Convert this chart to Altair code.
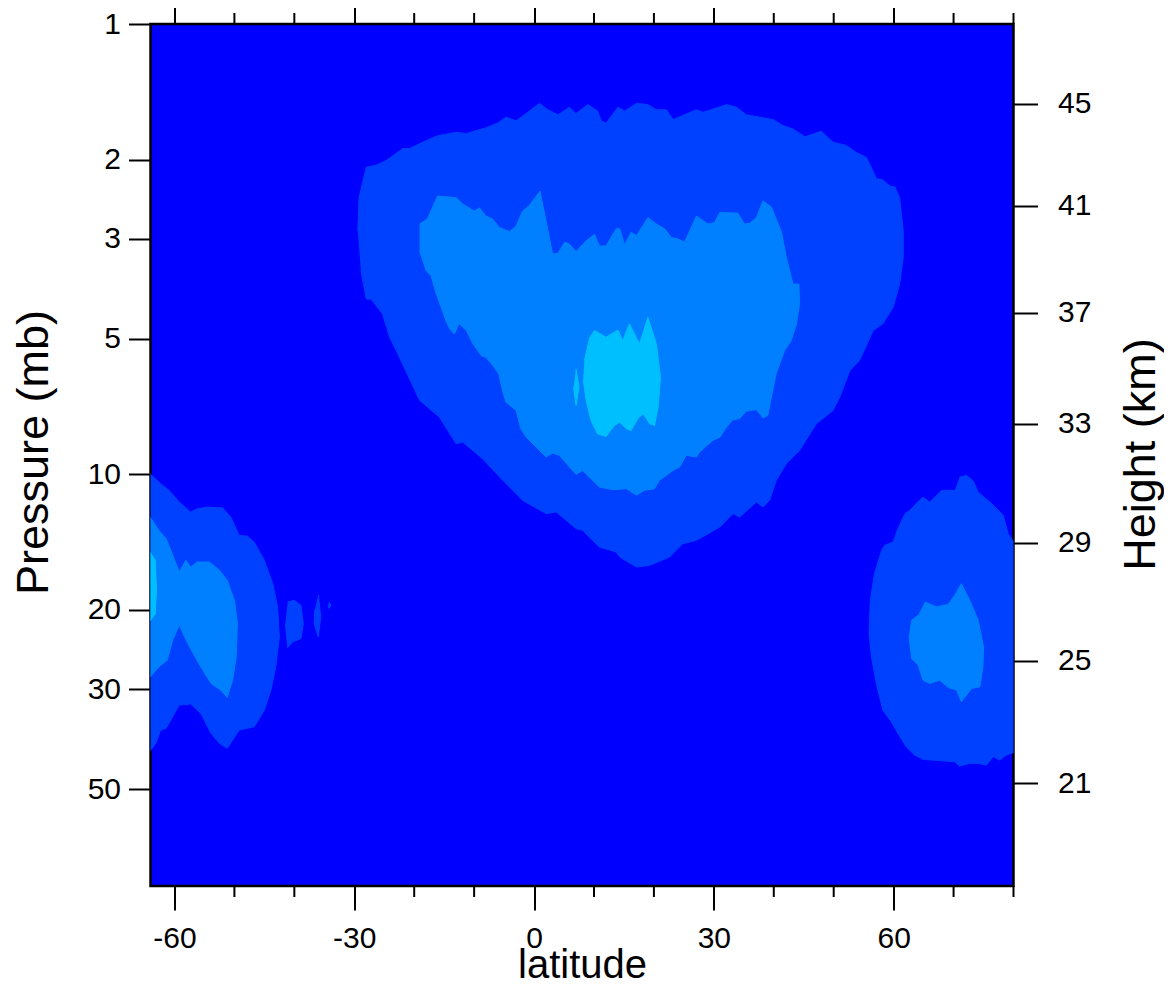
import altair as alt
import pandas as pd

# ---- axis tick values / labels ----
lat_major = [-60, -30, 0, 30, 60]
lat_minor = [-50, -40, -20, -10, 10, 20, 40, 50, 70, 80]
pres_ticks = [1, 2, 3, 5, 10, 20, 30, 50]
height_km = [21, 25, 29, 33, 37, 41, 45]
height_p = [48.5, 25.9, 14.17, 7.71, 4.375, 2.535, 1.504]

# ---- contour region outlines (latitude, pressure mb) ----
central_l1 = [(-29.4,2.88),(-29.2,2.43),(-28.0,2.08),(-26.4,2.06),(-24.7,2.01),(-21.9,1.89),(-20.8,1.89),(-18.6,1.83),(-16.1,1.77),(-13.0,1.74),(-11.3,1.75),(-8.0,1.70),(-6.1,1.66),(-4.7,1.61),(-3.0,1.64),(-1.6,1.59),(0.9,1.50),(2.3,1.55),(4.0,1.59),(5.9,1.53),(7.0,1.58),(9.0,1.51),(10.6,1.56),(11.2,1.64),(12.0,1.66),(14.0,1.53),(15.1,1.56),(17.1,1.50),(19.0,1.51),(20.4,1.55),(22.1,1.55),(23.2,1.63),(27.1,1.55),(28.2,1.57),(32.1,1.51),(33.8,1.53),(35.4,1.59),(39.9,1.63),(41.5,1.68),(43.2,1.71),(45.2,1.78),(47.9,1.73),(49.9,1.83),(52.1,1.86),(53.8,1.93),(55.5,1.98),(57.1,2.20),(58.2,2.22),(59.4,2.29),(60.2,2.30),(61.0,2.43),(61.6,2.88),(61.6,3.30),(61.0,3.78),(59.9,4.26),(58.2,4.63),(56.6,4.79),(54.3,5.59),(52.7,5.88),(51.0,6.74),(49.9,7.21),(47.1,7.72),(44.3,8.85),(42.1,9.47),(40.4,10.31),(39.3,11.42),(38.2,11.82),(37.1,11.52),(34.3,12.44),(33.2,12.22),(31.0,13.09),(27.1,14.01),(24.8,14.25),(22.6,15.26),(19.3,15.92),(17.1,16.06),(14.3,15.26),(13.7,14.87),(10.9,14.50),(8.1,13.31),(7.0,13.20),(3.7,12.12),(2.0,12.22),(-1.9,11.42),(-5.2,10.31),(-8.6,9.23),(-11.9,8.48),(-13.0,8.55),(-15.8,7.46),(-19.1,6.85),(-23.0,5.31),(-24.1,4.96),(-25.3,4.40),(-27.2,4.08),(-28.0,4.08),(-28.9,3.53)]

central_l2 = [(-19.1,2.78),(-17.8,2.71),(-16.1,2.41),(-13.0,2.43),(-11.9,2.51),(-10.0,2.60),(-9.1,2.56),(-8.0,2.67),(-6.9,2.71),(-5.8,2.83),(-4.1,2.89),(-3.0,2.81),(-1.9,2.60),(-0.8,2.53),(1.0,2.35),(3.1,3.24),(4.0,3.23),(5.1,3.05),(5.9,3.08),(7.0,3.20),(8.7,3.03),(10.1,2.93),(10.9,3.11),(12.0,3.11),(13.7,2.85),(14.3,2.85),(15.1,3.09),(16.2,2.90),(17.1,2.95),(19.0,2.69),(20.4,2.78),(21.8,2.85),(22.9,2.98),(24.0,3.00),(25.1,3.05),(27.1,2.67),(29.0,2.78),(30.1,2.76),(31.0,2.62),(34.0,2.63),(35.1,2.78),(36.0,2.77),(37.1,2.69),(38.2,2.47),(39.6,2.55),(41.3,2.90),(42.1,3.30),(43.2,3.78),(44.2,3.78),(44.3,4.18),(43.8,4.63),(42.9,5.05),(41.8,5.31),(40.4,5.98),(39.6,6.74),(39.0,7.40),(38.2,7.49),(37.1,7.18),(35.4,7.24),(34.3,7.52),(33.2,7.56),(32.1,7.86),(31.0,8.27),(29.8,8.41),(27.6,8.93),(27.1,9.15),(25.4,9.07),(24.3,9.63),(23.2,9.80),(20.9,10.31),(20.1,10.76),(18.4,10.85),(17.1,11.13),(15.4,10.76),(13.1,10.81),(10.9,10.67),(8.1,9.80),(7.0,10.0),(4.2,9.07),(3.1,8.97),(2.0,9.15),(0.9,8.85),(-1.3,8.27),(-2.2,7.92),(-3.0,7.21),(-4.7,6.91),(-5.2,6.57),(-5.9,5.98),(-6.9,5.73),(-8.0,5.50),(-8.8,5.45),(-10.2,5.13),(-11.3,4.79),(-12.5,4.63),(-13.3,4.88),(-14.1,4.75),(-14.7,4.56),(-15.5,4.26),(-16.3,3.98),(-17.2,3.62),(-18.0,3.53),(-19.1,3.19)]

central_l3 = [(8.4,5.59),(9.3,4.96),(10.1,4.79),(12.0,4.96),(14.0,4.78),(14.8,5.05),(15.9,4.63),(17.6,5.13),(19.0,4.48),(20.4,5.13),(21.1,6.09),(20.7,7.09),(20.1,7.79),(19.3,7.72),(18.2,7.33),(17.3,7.52),(16.2,7.99),(15.4,7.92),(14.3,7.66),(13.4,7.79),(12.0,8.24),(10.6,8.13),(9.5,7.59),(8.7,6.85),(8.2,6.19)]
sliver_l3 = [(7.0,5.83),(7.5,6.41),(7.0,7.03),(6.6,6.41)]

left_l1 = [(-65,9.71),(-62.3,10.49),(-60.9,10.85),(-59.2,11.52),(-57.3,12.12),(-56.2,11.92),(-54.5,11.82),(-52.0,11.86),(-50.6,12.44),(-49.2,13.65),(-47.8,13.72),(-46.7,14.13),(-45.0,15.51),(-43.6,17.48),(-42.8,19.69),(-42.5,22.95),(-43.1,26.75),(-43.9,30.12),(-45.0,33.37),(-46.7,36.34),(-49.2,36.95),(-51.2,40.57),(-52.5,39.55),(-53.9,37.58),(-55.6,33.94),(-57.3,32.36),(-59.2,32.52),(-60.3,34.52),(-61.4,36.64),(-62.3,36.95),(-63.1,39.55),(-65,42.70)]
left_l2 = [(-65,11.92),(-62.6,13.31),(-61.4,13.89),(-60.6,14.74),(-59.2,16.47),(-58.1,15.51),(-57.3,16.06),(-56.2,15.65),(-54.2,15.65),(-52.5,16.33),(-51.2,17.18),(-50.0,19.03),(-49.5,21.43),(-49.7,25.42),(-50.3,28.63),(-51.2,31.26),(-52.3,30.12),(-53.9,29.11),(-55.6,26.75),(-57.8,23.74),(-59.2,21.62),(-60.3,23.34),(-61.2,25.85),(-62.6,26.75),(-65,29.11)]
left_l3 = [(-65,14.25),(-63.2,15.51),(-63.0,18.08),(-63.2,20.37),(-65,21.99)]
blob_a = [(-41.1,19.19),(-40.0,19.03),(-38.9,19.52),(-38.5,21.43),(-38.9,23.14),(-40.3,23.54),(-41.1,24.23),(-41.5,21.43)]
blob_b = [(-36.0,18.49),(-35.6,20.72),(-36.0,22.95),(-36.7,21.43),(-36.6,20.03)]
blob_c = [(-34.2,19.22),(-33.9,19.52),(-34.2,19.82),(-34.4,19.52)]

right_l1 = [(71.0,10.14),(72.2,10.05),(73.3,10.35),(74.1,10.95),(76.3,11.59),(78.3,12.33),(79.1,13.54),(81,14.74),(81,40.93),(78.8,42.0),(77.7,43.07),(76.6,42.35),(75.5,44.19),(74.1,43.81),(72.7,43.81),(71.0,44.42),(70.2,43.45),(68.0,43.23),(64.9,42.92),(63.5,42.0),(62.1,40.24),(60.7,37.58),(59.6,35.42),(58.2,33.37),(57.1,29.11),(56.3,25.42),(55.9,22.55),(56.1,19.03),(56.8,16.60),(58.0,14.74),(58.5,14.37),(59.9,14.13),(60.7,13.20),(61.9,12.22),(62.7,12.02),(63.8,11.59),(64.9,11.23),(66.0,11.52),(68.0,10.85),(70.2,10.85)]
right_l2 = [(65.2,19.19),(67.2,19.69),(69.1,19.42),(70.2,18.55),(71.3,17.48),(72.7,19.03),(74.1,21.07),(75.0,24.15),(74.9,26.75),(74.4,29.62),(73.0,29.87),(71.3,31.98),(70.5,30.12),(69.1,29.72),(67.7,28.63),(66.0,29.11),(64.9,28.63),(64.1,26.51),(63.0,25.63),(62.6,22.95),(63.0,21.07),(64.1,20.54)]

level_colors = ["#0040FF", "#0080FF", "#00BFFF"]
polygons = [
    (0, "central_l1", central_l1), (0, "left_l1", left_l1), (0, "right_l1", right_l1),
    (0, "blob_a", blob_a), (0, "blob_b", blob_b), (0, "blob_c", blob_c),
    (1, "central_l2", central_l2), (1, "left_l2", left_l2), (1, "right_l2", right_l2),
    (2, "central_l3", central_l3), (2, "sliver_l3", sliver_l3), (2, "left_l3", left_l3),
]

rows = []
for lev, name, pts in polygons:
    for i, (la, pp) in enumerate(pts):
        rows.append({"level": lev, "poly": name, "idx": i, "lat": la, "p": pp})
df = pd.DataFrame(rows)
minor_df = pd.DataFrame({"lat": lat_minor})

FONT = "Liberation Sans"
W = 863
H = 862
xs = alt.Scale(domain=[-64, 80], nice=False, zero=False)
ys = alt.Scale(type="log", domain=[1, 82], reverse=True, nice=False)

common = dict(domain=False, grid=False, tickColor="black", tickWidth=2,
              labelFont=FONT, labelColor="black", titleFont=FONT,
              titleColor="black", titleFontWeight="normal")

x_bottom = alt.Axis(values=lat_major, tickSize=24, labelFontSize=30, labelPadding=13,
                    labelExpr="'' + datum.value", labelFlush=False,
                    title="latitude", titleFontSize=40, titleBaseline="alphabetic",
                    titleY=91, titleX=W / 2, titleAlign="center", **common)
x_top = alt.Axis(orient="top", values=lat_major, tickSize=24, labels=False,
                 title=None, **common)
y_left = alt.Axis(values=pres_ticks, tickSize=22, labelFontSize=30, labelPadding=8,
                  labelExpr="'' + datum.value", labelFlush=False,
                  title="Pressure (mb)", titleFontSize=45, titleAngle=270,
                  titleBaseline="alphabetic", titleAlign="center",
                  titleX=-103, titleY=H / 2 - 3, **common)
h_expr = " : ".join(
    f"abs(datum.value - {p}) < 0.001 ? '{h}'" for h, p in zip(height_km, height_p)
) + " : ''"
y_right = alt.Axis(orient="right", values=height_p, tickSize=24, labelFontSize=30,
                   labelPadding=20, labelExpr=h_expr, labelFlush=False,
                   title="Height (km)", titleFontSize=45, titleAngle=270,
                   titleBaseline="alphabetic", titleAlign="center",
                   titleX=141, titleY=H / 2 - 1, **common)


def level_layer(lev, xaxis=None, yaxis=None):
    c = level_colors[lev]
    return alt.Chart(df).transform_filter(alt.datum.level == lev).mark_line(
        fill=c, stroke=c, strokeWidth=1, clip=True
    ).encode(
        x=alt.X("lat:Q", scale=xs, axis=xaxis),
        y=alt.Y("p:Q", scale=ys, axis=yaxis),
        detail="poly:N",
        order="idx:Q",
    )


l1 = level_layer(0, x_bottom, y_left)
l2 = level_layer(1, x_top, y_right)
l3 = level_layer(2)

minor_bottom = alt.Chart(minor_df).mark_rule(color="black", strokeWidth=2).encode(
    x=alt.X("lat:Q", scale=xs, axis=None), y=alt.value(H), y2=alt.value(H + 11))
minor_top = alt.Chart(minor_df).mark_rule(color="black", strokeWidth=2).encode(
    x=alt.X("lat:Q", scale=xs, axis=None), y=alt.value(0), y2=alt.value(-11))

chart = alt.layer(l1, l2, l3, minor_bottom, minor_top).resolve_axis(
    x="independent", y="independent"
).properties(
    width=W, height=H,
    autosize=alt.AutoSizeParams(type="none"),
    padding={"left": 142.5, "top": 16, "right": 150, "bottom": 100},
    background="white",
).configure_view(fill="#0000FF", stroke="black", strokeWidth=2.5)

chart.save("out.html", embed_options={"renderer": "svg", "actions": False})
